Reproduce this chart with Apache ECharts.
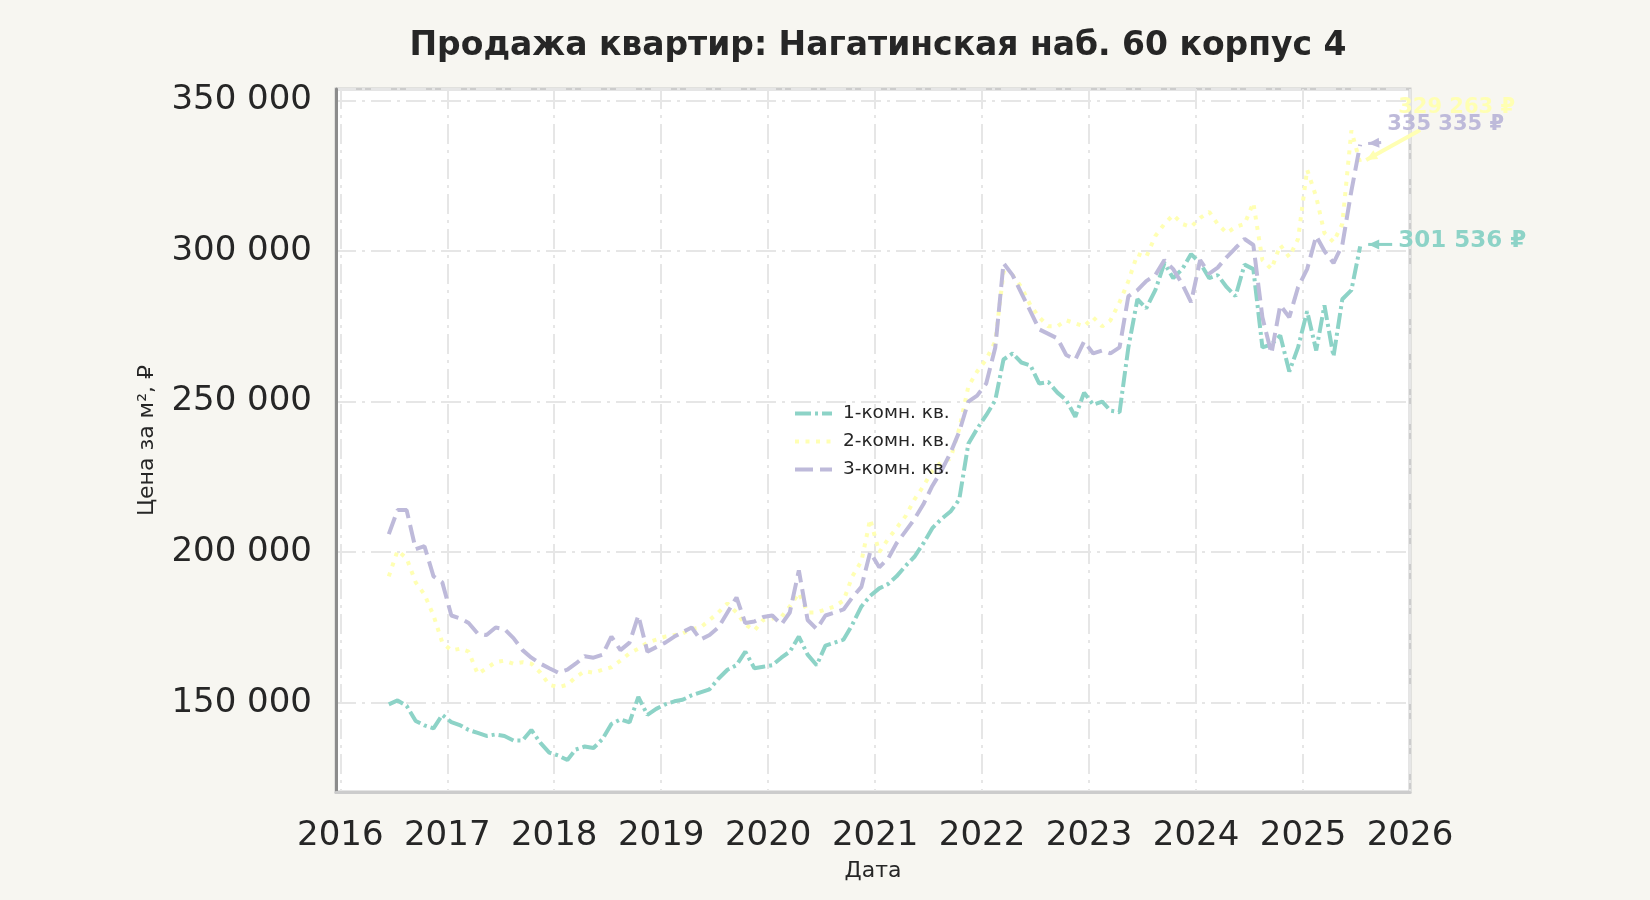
<!DOCTYPE html>
<html>
<head>
<meta charset="utf-8">
<style>
  html, body { margin: 0; padding: 0; background: #f7f6f1; }
  #chart { width: 1650px; height: 900px; }
</style>
</head>
<body>
<div id="chart"></div>
<script src="https://cdn.jsdelivr.net/npm/echarts@6/dist/echarts.min.js"></script>
<script>
const chart = echarts.init(document.getElementById('chart'));

// месяцы (середина месяца)
const dates = [
  '2016-06-15','2016-07-15','2016-08-15','2016-09-15','2016-10-15','2016-11-15','2016-12-15',
  '2017-01-15','2017-02-15','2017-03-15','2017-04-15','2017-05-15','2017-06-15','2017-07-15','2017-08-15','2017-09-15','2017-10-15','2017-11-15','2017-12-15',
  '2018-01-15','2018-02-15','2018-03-15','2018-04-15','2018-05-15','2018-06-15','2018-07-15','2018-08-15','2018-09-15','2018-10-15','2018-11-15','2018-12-15',
  '2019-01-15','2019-02-15','2019-03-15','2019-04-15','2019-05-15','2019-06-15','2019-07-15','2019-08-15','2019-09-15','2019-10-15','2019-11-15','2019-12-15',
  '2020-01-15','2020-02-15','2020-03-15','2020-04-15','2020-05-15','2020-06-15','2020-07-15','2020-08-15','2020-09-15','2020-10-15','2020-11-15','2020-12-15',
  '2021-01-15','2021-02-15','2021-03-15','2021-04-15','2021-05-15','2021-06-15','2021-07-15','2021-08-15','2021-09-15','2021-10-15','2021-11-15','2021-12-15',
  '2022-01-15','2022-02-15','2022-03-15','2022-04-15','2022-05-15','2022-06-15','2022-07-15','2022-08-15','2022-09-15','2022-10-15','2022-11-15','2022-12-15',
  '2023-01-15','2023-02-15','2023-03-15','2023-04-15','2023-05-15','2023-06-15','2023-07-15','2023-08-15','2023-09-15','2023-10-15','2023-11-15','2023-12-15',
  '2024-01-15','2024-02-15','2024-03-15','2024-04-15','2024-05-15','2024-06-15','2024-07-15','2024-08-15','2024-09-15','2024-10-15','2024-11-15','2024-12-15',
  '2025-01-15','2025-02-15','2025-03-15','2025-04-15','2025-05-15','2025-06-15','2025-07-15'
];

// цена за м², тыс. ₽
const room1 = [
  149.5,150.8,149,144,142.5,141.5,146,
  143.6,142.5,141,140,139,139.5,139,137.5,137.5,141,136.7,133.5,
  132.5,131,134.5,135.5,135,138,143,144.5,143.5,152,146,148,
  149.5,150.5,151,152.5,153.5,154.5,158,161,162.5,167,161.5,162,
  162.5,165,167,172,166,162.5,169,170,171,176,182,185.5,
  188,189.5,192,195.5,198.5,203,208,211,213.5,217.5,236,241,
  245.5,250.5,264,266,263,262,256,256.5,253,250.5,245,253,
  249,250,247,246.5,268,284,281,287,296,291,294,299,
  296,291,292,288,285,295.5,294,268,269,272,260,268,
  280,267,282,265,284,287,301.536
];
const room2 = [
  192,200.5,198,190,186,179,170,
  167.4,168,167,159.6,161.5,163.5,164,163,163.5,163,160,156,
  155.2,156,158.5,160.5,160,161,161.8,164,166.5,168,170,171,
  172,172.5,173,174.5,175,177.5,180,183,180,176,174,177.5,
  178,178.5,182,186.5,180,180,181,182,184,192,197,211,
  200,204.5,208,212,217.5,222,227,230,231,241,255,260,
  264,270,293,292,288,282,278,275,275,277,276,275,
  278,275,277,283,290,299,298,305,309,312,309,308,
  311,313,309,306,308,309,316,297,294,302,298,304,
  327,318,306,303,309,340,329.263
];
const room3 = [
  206,214,214,201,202,192,190,
  179,178,176.5,173,172.5,175,174.5,171.5,167.5,165,163,161.5,
  160,161,163,165.5,165,166,172,167.5,170,179,167,168.5,
  170,172,173.5,175,171,172.5,175,180,185,176.5,177,178.5,
  179,176,180,194,177.5,174.5,179,180,181,185,188.5,200,
  195,198,203,207,211,216,222,227,233,240,250,252,
  256,268,296,292,286,280,274,272.5,271,265.5,264,270,
  266,267,266,268,285,287,290,292,297,294,289,283,
  297,292.5,294.5,298,301,304,302,278,266,282,278,288,
  294,305,300,296,302,320,335.335
];

const names = ['1-комн. кв.', '2-комн. кв.', '3-комн. кв.'];
const colors = ['#8dd3c7', '#ffffb3', '#bebada'];
const dashes = [[16, 4, 3, 4], [4, 6.5], [18, 7]];

function toYear(s) {
  const [y, m, d] = s.split('-').map(Number);
  const start = Date.UTC(y, 0, 1), end = Date.UTC(y + 1, 0, 1);
  return y + (Date.UTC(y, m - 1, d) - start) / (end - start);
}
function fmt(v) {
  return String(Math.round(v)).replace(/\B(?=(\d{3})+(?!\d))/g, ' ');
}

const xs = dates.map(toYear);
const all = [room1, room2, room3];
const FONT = 'DejaVu Sans';
const gridLine = { show: true, lineStyle: { color: '#e6e6e6', width: 2, type: [20, 6, 3, 6] } };

const option = {
  backgroundColor: '#f7f6f1',
  animation: false,
  textStyle: { fontFamily: FONT },
  title: {
    text: 'Продажа квартир: Нагатинская наб. 60 корпус 4',
    left: 873, top: 25, textAlign: 'center',
    textStyle: { fontFamily: FONT, fontSize: 33, fontWeight: 'bold', color: '#262626' }
  },
  legend: {
    data: names,
    orient: 'vertical',
    left: 788, top: 399,
    itemWidth: 37, itemHeight: 14, itemGap: 9,
    itemStyle: { opacity: 0 },
    lineStyle: { width: 4 },
    textStyle: { fontFamily: FONT, fontSize: 18.5, color: '#262626', padding: [0, 0, 0, 6] }
  },
  grid: {
    left: 336, right: 240, top: 89, bottom: 108,
    show: true, backgroundColor: '#ffffff', borderColor: '#cccccc', borderWidth: 3
  },
  xAxis: {
    type: 'value', min: 2015.96, max: 2026, splitNumber: 10,
    name: 'Дата', nameLocation: 'middle', nameGap: 68,
    nameTextStyle: { fontFamily: FONT, fontSize: 22, color: '#262626' },
    axisLine: { show: true, lineStyle: { color: '#cccccc', width: 3 } },
    axisTick: { show: false },
    axisLabel: { showMinLabel: false, margin: 27, fontSize: 34, color: '#262626', fontFamily: FONT,
      formatter: v => String(Math.round(v)) },
    splitLine: gridLine
  },
  yAxis: {
    type: 'value', min: 120400, max: 353800, splitNumber: 5,
    name: 'Цена за м², ₽', nameLocation: 'middle', nameGap: 178,
    nameTextStyle: { fontFamily: FONT, fontSize: 22, color: '#262626' },
    axisLine: { show: true, lineStyle: { color: '#8c8c8c', width: 3 } },
    axisTick: { show: false },
    axisLabel: { showMinLabel: false, showMaxLabel: false, margin: 24, fontSize: 34, color: '#262626', fontFamily: FONT,
      formatter: fmt },
    splitLine: gridLine
  },
  series: all.map((vals, i) => ({
    name: names[i],
    type: 'line',
    symbol: 'none',
    clip: true,
    color: colors[i],
    lineStyle: { color: colors[i], width: 4, type: dashes[i] },
    data: vals.map((v, j) => [xs[j], v * 1000])
  }))
};

chart.setOption(option);

// подписи последних значений со стрелками
const last = all.map((vals, i) => {
  const n = vals.length - 1;
  return { p: chart.convertToPixel({ gridIndex: 0 }, [xs[n], vals[n] * 1000]), v: vals[n] * 1000 };
});
function arrowHead(x, y, dx, dy, color) {
  const len = Math.hypot(dx, dy), ux = dx / len, uy = dy / len;
  const L = 11, W = 5;
  return {
    type: 'polygon', z: 100,
    shape: { points: [[x, y], [x + ux * L - uy * W, y + uy * L + ux * W], [x + ux * L + uy * W, y + uy * L - ux * W]] },
    style: { fill: color }
  };
}
const offsets = [
  { text: [38, -5], from: [32, -2], to: [8, -2], size: 23 },
  { text: [38, -55], from: [60, -33], to: [6, -3], size: 21 },
  { text: [27, -20], from: [21, -2], to: [8, -1], size: 21 }
];
const elements = [];
last.forEach((l, i) => {
  const o = offsets[i], c = colors[i];
  const x0 = l.p[0] + o.from[0], y0 = l.p[1] + o.from[1];
  const x1 = l.p[0] + o.to[0], y1 = l.p[1] + o.to[1];
  elements.push({ type: 'line', z: 100, shape: { x1: x0, y1: y0, x2: x1, y2: y1 }, style: { stroke: c, lineWidth: i === 1 ? 4 : 3 } });
  elements.push(arrowHead(x1, y1, x0 - x1, y0 - y1, c));
  elements.push({ type: 'text', z: 100, x: l.p[0] + o.text[0], y: l.p[1] + o.text[1],
    style: { text: fmt(l.v) + ' ₽', fill: c, font: 'bold ' + o.size + 'px "DejaVu Sans"', verticalAlign: 'middle' } });
});
chart.setOption({ graphic: { elements: elements } });
</script>
</body>
</html>
